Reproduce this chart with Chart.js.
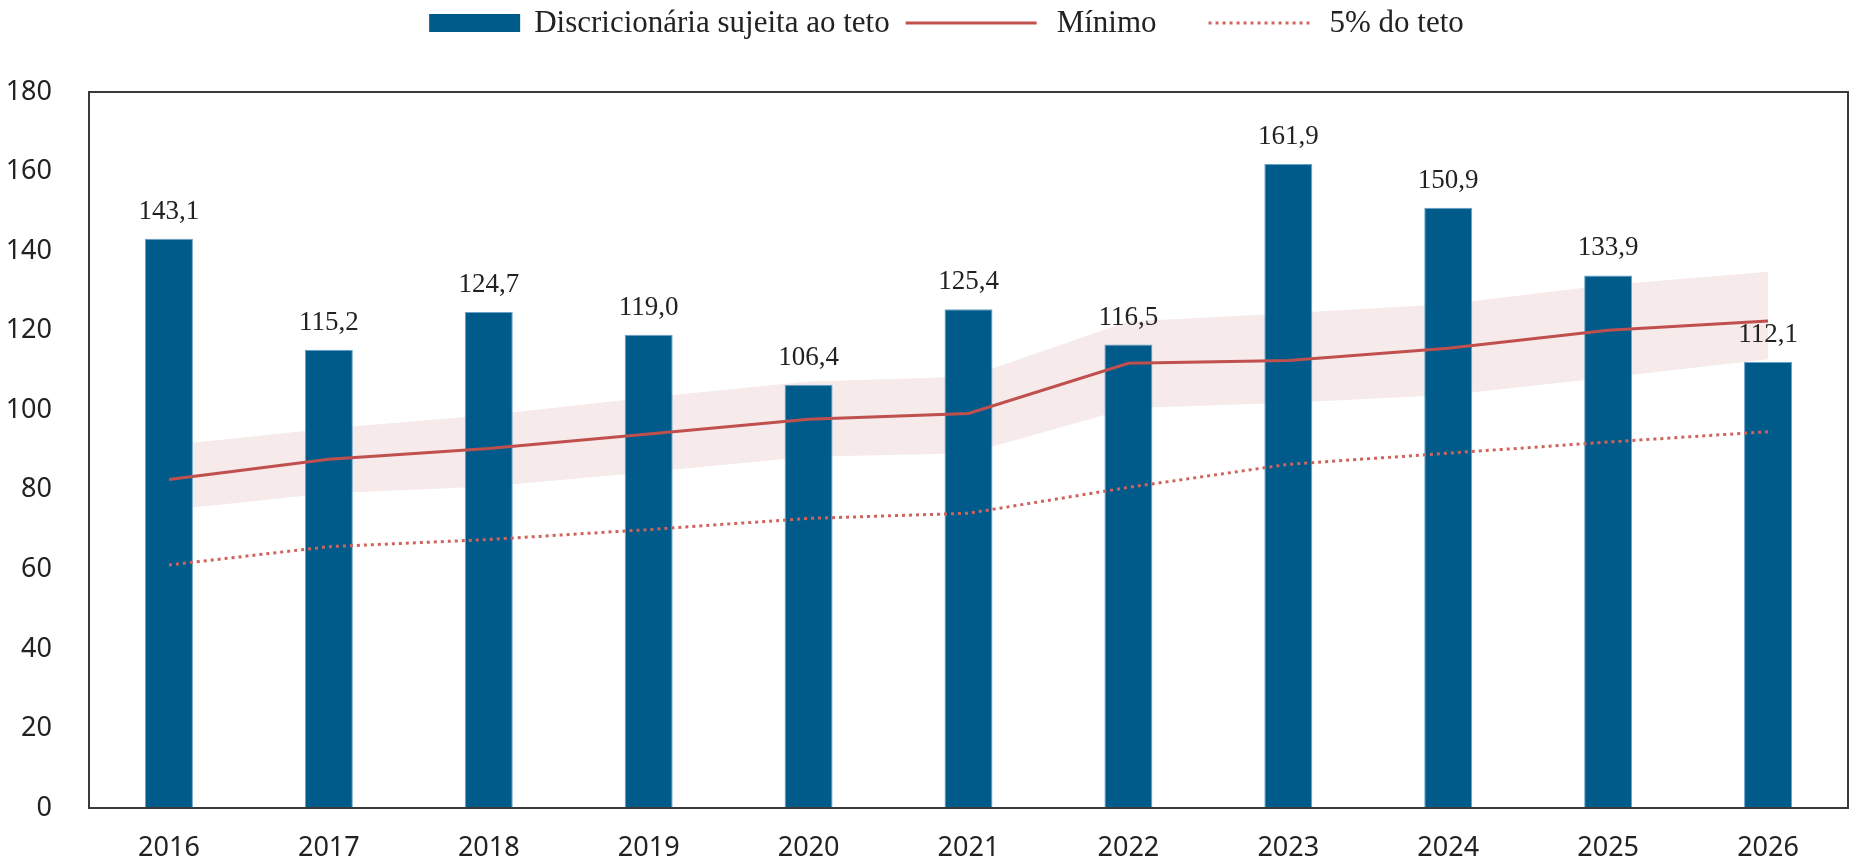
<!DOCTYPE html>
<html lang="pt">
<head>
<meta charset="utf-8">
<title>Discricionária sujeita ao teto</title>
<script src="https://cdn.jsdelivr.net/npm/chart.js@4/dist/chart.umd.min.js"></script>
<style>
  html, body { margin: 0; padding: 0; background: #fff; }
  #wrap { width: 1856px; height: 860px; }
</style>
</head>
<body>
<div id="wrap"><canvas id="grafico" width="1856" height="860"></canvas></div>
<script>
'use strict';

// Dados (R$ bilhões)
const ANOS = ['2016', '2017', '2018', '2019', '2020', '2021', '2022', '2023', '2024', '2025', '2026'];
const DISCRICIONARIA = [143.1, 115.2, 124.7, 119.0, 106.4, 125.4, 116.5, 161.9, 150.9, 133.9, 112.1];
const MINIMO = [82.6, 87.7, 90.4, 94.0, 97.7, 99.2, 111.8, 112.5, 115.6, 120.1, 122.4];
const FAIXA_SUPERIOR = [91.2, 95.4, 98.8, 103.2, 107.2, 108.4, 122.3, 124.4, 126.7, 131.5, 134.8];
const FAIXA_INFERIOR = [74.9, 79.1, 80.8, 84.5, 88.3, 89.2, 100.5, 101.9, 103.8, 108.2, 112.8];
const CINCO_POR_CENTO = [61.1, 65.7, 67.5, 70.0, 72.8, 74.1, 80.6, 86.4, 89.2, 92.0, 94.6];
const Y_TICKS = [0, 20, 40, 60, 80, 100, 120, 140, 160, 180];

const AZUL = '#005a8a';
const VERMELHO = '#c0504d';
const VERMELHO_CLARO = '#d0645d';
const ROSA_FAIXA = '#f6eaea';
const TEXTO = '#222';
const FONTE_EIXO = '"Noto Sans", sans-serif';
const FONTE_SERIF = '"Liberation Serif", serif';

const fmt = (v) => v.toFixed(1).replace('.', ',');

// moldura preta em volta da área do gráfico
const moldura = {
  id: 'moldura',
  afterDatasetsDraw(chart) {
    const { ctx, chartArea: a } = chart;
    ctx.save();
    ctx.strokeStyle = '#3a3a3a';
    ctx.lineWidth = 2;
    ctx.strokeRect(a.left, a.top, a.right - a.left, a.bottom - a.top);
    ctx.restore();
  },
};

// valores acima das barras
const rotulos = {
  id: 'rotulos',
  afterDatasetsDraw(chart) {
    const { ctx } = chart;
    const meta = chart.getDatasetMeta(2);
    ctx.save();
    ctx.font = '27px ' + FONTE_SERIF;
    ctx.fillStyle = TEXTO;
    ctx.textAlign = 'center';
    ctx.textBaseline = 'alphabetic';
    meta.data.forEach((bar, i) => {
      ctx.fillText(fmt(DISCRICIONARIA[i]), bar.x, bar.y - 20);
    });
    ctx.restore();
  },
};

// legenda desenhada à mão (amostras com larguras diferentes)
const legenda = {
  id: 'legenda',
  afterDraw(chart) {
    const { ctx, chartArea: a } = chart;
    const itens = [
      { texto: 'Discricionária sujeita ao teto', tipo: 'caixa', largura: 91, gapAntes: 0 },
      { texto: 'Mínimo', tipo: 'linha', largura: 131, gapAntes: 16 },
      { texto: '5% do teto', tipo: 'pontos', largura: 101, gapAntes: 52 },
    ];
    ctx.save();
    ctx.font = '31px ' + FONTE_SERIF;
    let total = 0;
    itens.forEach((it, i) => {
      it.w = ctx.measureText(it.texto).width;
      it.gapTexto = i === 0 ? 14 : 20;
      total += it.gapAntes + it.largura + it.gapTexto + it.w;
    });
    let x = (a.left + a.right) / 2 - 22 - total / 2;
    const y = 23;
    itens.forEach((it) => {
      x += it.gapAntes;
      if (it.tipo === 'caixa') {
        ctx.fillStyle = AZUL;
        ctx.fillRect(x, y - 9, it.largura, 18);
      } else {
        ctx.beginPath();
        ctx.lineWidth = 3;
        ctx.strokeStyle = it.tipo === 'linha' ? VERMELHO : VERMELHO_CLARO;
        ctx.setLineDash(it.tipo === 'linha' ? [] : [3, 4]);
        ctx.moveTo(x, y);
        ctx.lineTo(x + it.largura, y);
        ctx.stroke();
        ctx.setLineDash([]);
      }
      x += it.largura + it.gapTexto;
      ctx.fillStyle = TEXTO;
      ctx.textAlign = 'left';
      ctx.textBaseline = 'middle';
      ctx.fillText(it.texto, x, y + 1);
      x += it.w;
    });
    ctx.restore();
  },
};

const linhaBase = { pointRadius: 0, pointHoverRadius: 0, tension: 0 };

new Chart(document.getElementById('grafico'), {
  data: {
    labels: ANOS,
    datasets: [
      {
        type: 'line', label: 'Mínimo', data: MINIMO, order: 0,
        borderColor: VERMELHO, borderWidth: 3, fill: false, ...linhaBase,
      },
      {
        type: 'line', label: '5% do teto', data: CINCO_POR_CENTO, order: 1,
        borderColor: VERMELHO_CLARO, borderWidth: 3, borderDash: [3, 4], fill: false, ...linhaBase,
      },
      {
        type: 'bar', label: 'Discricionária sujeita ao teto', data: DISCRICIONARIA, order: 2,
        backgroundColor: AZUL, borderColor: '#6aa3c6', borderWidth: 1, borderSkipped: 'bottom',
        categoryPercentage: 1, barPercentage: 0.3,
      },
      {
        type: 'line', label: 'faixa sup', data: FAIXA_SUPERIOR, order: 3,
        borderWidth: 0, borderColor: 'rgba(0,0,0,0)', backgroundColor: ROSA_FAIXA, fill: '+1', ...linhaBase,
      },
      {
        type: 'line', label: 'faixa inf', data: FAIXA_INFERIOR, order: 4,
        borderWidth: 0, borderColor: 'rgba(0,0,0,0)', fill: false, ...linhaBase,
      },
    ],
  },
  options: {
    responsive: false,
    animation: false,
    devicePixelRatio: 1,
    layout: { padding: { top: 92, right: 8, left: 0, bottom: 0 } },
    plugins: { legend: { display: false }, tooltip: { enabled: false } },
    scales: {
      x: {
        grid: { display: false },
        border: { display: false },
        ticks: { color: TEXTO, font: { family: FONTE_EIXO, size: 27 }, padding: 16, maxRotation: 0 },
        afterFit(s) { s.height = 52; },
      },
      y: {
        min: 0,
        max: 180,
        grid: { display: false },
        border: { display: false },
        ticks: { color: TEXTO, font: { family: FONTE_EIXO, size: 27 }, padding: 29 },
        afterBuildTicks(s) { s.ticks = Y_TICKS.map((v) => ({ value: v })); },
        afterFit(s) { s.width = 89; },
      },
    },
  },
  plugins: [moldura, rotulos, legenda],
});
</script>
</body>
</html>
